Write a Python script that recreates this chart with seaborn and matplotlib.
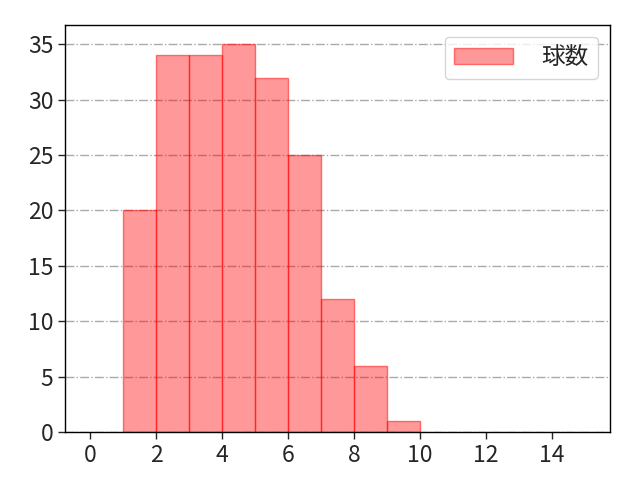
import seaborn as sns
import matplotlib.pyplot as plt
import pandas as pd

# 球数の分布（ビンの左端と度数）
bin_left = [1, 2, 3, 4, 5, 6, 7, 8, 9]
counts = [20, 34, 34, 35, 32, 25, 12, 6, 1]
bin_edges = list(range(1, 11))

df = pd.DataFrame({'球数': bin_left, 'count': counts})

sns.set_style('white')
plt.rcParams['font.family'] = ['Noto Sans CJK JP', 'DejaVu Sans']

fig, ax = plt.subplots(figsize=(6.4, 4.8), dpi=100)
sns.histplot(data=df, x='球数', weights='count', bins=bin_edges,
             color='red', alpha=0.4, edgecolor=(1, 0, 0, 0.5), linewidth=1,
             label='球数', ax=ax)
ax.set_xlim(-0.75, 15.75)
ax.set_ylim(0, 36.75)
ax.set_xticks(range(0, 16, 2))
ax.set_xlabel('')
ax.set_ylabel('')
ax.tick_params(labelsize=16.5, length=5, width=1, direction='out', bottom=True, left=True)
ax.grid(axis='y', color='#aaaaaa', linestyle='-.', linewidth=1)
ax.set_axisbelow(True)
for s in ax.spines.values():
    s.set_color('black')
    s.set_linewidth(1)
ax.legend(loc='upper right', fontsize=17, handlelength=2.5, handletextpad=1.2)
fig.subplots_adjust(left=0.102, right=0.953, top=0.948, bottom=0.1)
plt.savefig('out.png')
